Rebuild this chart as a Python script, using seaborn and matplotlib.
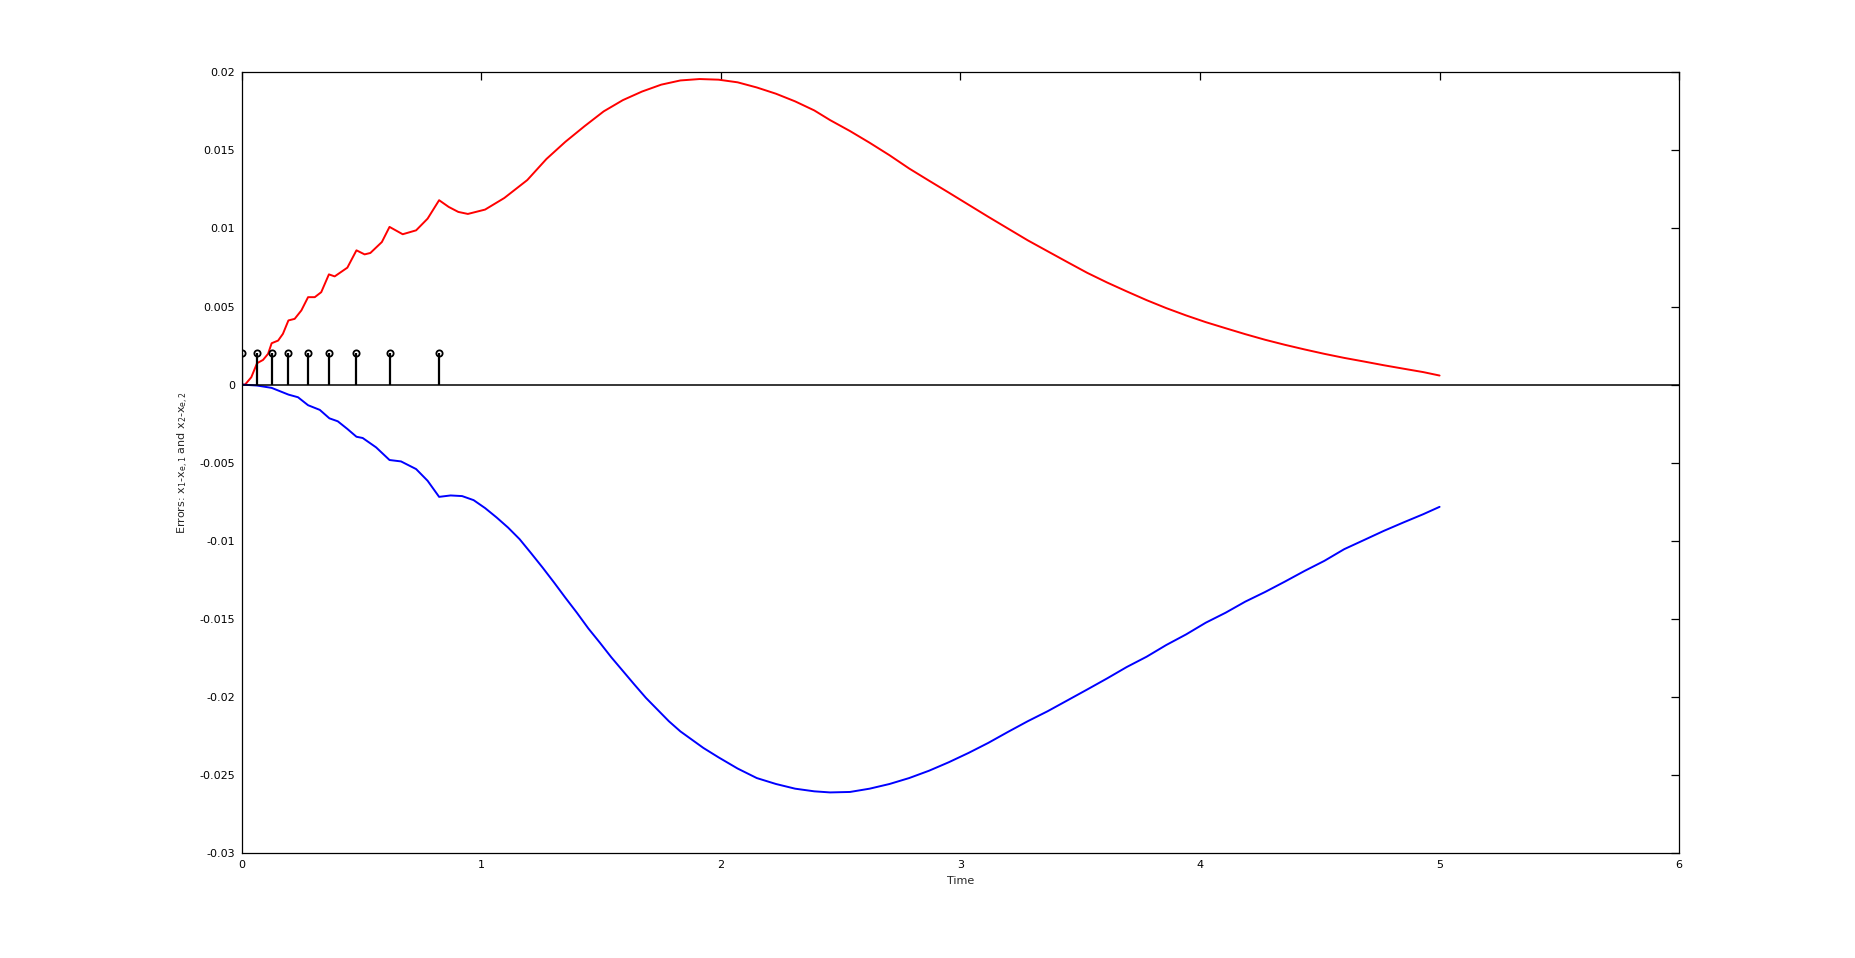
import matplotlib
matplotlib.use("Agg")
import matplotlib.pyplot as plt
import seaborn as sns
import pandas as pd

# impulse times (stem plot)
impulse_t = [0.0, 0.064, 0.126, 0.195, 0.277, 0.365, 0.478, 0.617, 0.824]
impulse_h = [0.002] * len(impulse_t)

# error x1 - xe1 (red)
red_t = [0.0, 0.014, 0.040, 0.064, 0.089, 0.110, 0.125, 0.152, 0.172, 0.195,
         0.221, 0.249, 0.277, 0.305, 0.332, 0.364, 0.388, 0.441, 0.479, 0.513,
         0.537, 0.585, 0.617, 0.672, 0.728, 0.776, 0.824, 0.864, 0.904, 0.944,
         1.016, 1.096, 1.192, 1.272, 1.351, 1.431, 1.511, 1.591, 1.671, 1.751,
         1.831, 1.911, 1.990, 2.070, 2.150, 2.230, 2.310, 2.390, 2.456, 2.539,
         2.621, 2.704, 2.786, 2.869, 2.951, 3.034, 3.116, 3.199, 3.281, 3.364,
         3.446, 3.529, 3.612, 3.694, 3.777, 3.859, 3.942, 4.024, 4.107, 4.189,
         4.272, 4.354, 4.437, 4.519, 4.602, 4.684, 4.767, 4.849, 4.932, 5.0]
red_e = [0.0, 0.0, 0.00047, 0.00137, 0.00158, 0.00197, 0.00265, 0.00282, 0.00325, 0.00411,
         0.00421, 0.00475, 0.00560, 0.00560, 0.00592, 0.00706, 0.00693, 0.00749, 0.00860, 0.00834,
         0.00843, 0.00913, 0.01010, 0.00963, 0.00988, 0.01063, 0.01181, 0.01138, 0.01106, 0.01093,
         0.01121, 0.01195, 0.01310, 0.01445, 0.01555, 0.01655, 0.01750, 0.01822, 0.01877, 0.01921,
         0.01948, 0.01957, 0.01953, 0.01936, 0.01903, 0.01863, 0.01814, 0.01756, 0.01694, 0.01624,
         0.01549, 0.01469, 0.01384, 0.01306, 0.01230, 0.01152, 0.01075, 0.00999, 0.00924, 0.00854,
         0.00785, 0.00716, 0.00654, 0.00597, 0.00541, 0.00490, 0.00443, 0.00400, 0.00361, 0.00323,
         0.00287, 0.00255, 0.00225, 0.00197, 0.00171, 0.00148, 0.00124, 0.00102, 0.00080, 0.00058]

# error x2 - xe2 (blue)
blue_t = [0.0, 0.064, 0.125, 0.195, 0.235, 0.277, 0.326, 0.366, 0.401, 0.441,
          0.479, 0.505, 0.561, 0.617, 0.665, 0.728, 0.776, 0.824, 0.872, 0.920,
          0.968, 1.016, 1.064, 1.112, 1.160, 1.208, 1.256, 1.304, 1.351, 1.399,
          1.447, 1.495, 1.543, 1.591, 1.639, 1.687, 1.735, 1.783, 1.831, 1.879,
          1.927, 1.990, 2.070, 2.150, 2.230, 2.310, 2.390, 2.456, 2.539, 2.621,
          2.704, 2.786, 2.869, 2.951, 3.034, 3.116, 3.199, 3.281, 3.364, 3.446,
          3.529, 3.612, 3.694, 3.777, 3.859, 3.942, 4.024, 4.107, 4.189, 4.272,
          4.354, 4.437, 4.519, 4.602, 4.684, 4.767, 4.849, 4.932, 5.0]
blue_e = [0.0, -0.00006, -0.00021, -0.00064, -0.00081, -0.00132, -0.00162, -0.00216, -0.00235, -0.00284,
          -0.00334, -0.00342, -0.00402, -0.00483, -0.00492, -0.00541, -0.00616, -0.00719, -0.00710, -0.00714,
          -0.00740, -0.00791, -0.00851, -0.00916, -0.00990, -0.01080, -0.01172, -0.01268, -0.01365, -0.01461,
          -0.01562, -0.01653, -0.01747, -0.01834, -0.01921, -0.02006, -0.02081, -0.02156, -0.02221, -0.02274,
          -0.02327, -0.02387, -0.02459, -0.02520, -0.02558, -0.02588, -0.02605, -0.02612, -0.02609, -0.02588,
          -0.02558, -0.02520, -0.02473, -0.02419, -0.02359, -0.02295, -0.02224, -0.02156, -0.02092, -0.02023,
          -0.01953, -0.01882, -0.01809, -0.01743, -0.01668, -0.01600, -0.01525, -0.01461, -0.01390, -0.01328,
          -0.01262, -0.01193, -0.01129, -0.01054, -0.00996, -0.00937, -0.00883, -0.00830, -0.00783]

x_ticks = [0, 1, 2, 3, 4, 5, 6]
y_ticks = [-0.03, -0.025, -0.02, -0.015, -0.01, -0.005, 0, 0.005, 0.01, 0.015, 0.02]
y_tick_labels = ["-0.03", "-0.025", "-0.02", "-0.015", "-0.01", "-0.005",
                 "0", "0.005", "0.01", "0.015", "0.02"]

sns.set_style("white")
plt.rcParams["font.family"] = ["DejaVu Sans"]
plt.rcParams["axes.unicode_minus"] = False

fig = plt.figure(figsize=(18.55, 9.58), dpi=100)
ax = fig.add_axes([0.1303, 0.1096, 0.7749, 0.8149])

red_df = pd.DataFrame({"t": red_t, "e": red_e})
blue_df = pd.DataFrame({"t": blue_t, "e": blue_e})

sns.lineplot(data=red_df, x="t", y="e", ax=ax, color="#ff0000", linewidth=1.4,
             sort=False, estimator=None)
sns.lineplot(data=blue_df, x="t", y="e", ax=ax, color="#0000ff", linewidth=1.4,
             sort=False, estimator=None)

# stems
ax.axhline(0, color="black", linewidth=1.1, zorder=3)
ax.vlines(impulse_t, 0, impulse_h, color="black", linewidth=1.6, zorder=4)
ax.plot(impulse_t, impulse_h, "o", color="black", markerfacecolor="none",
        markersize=4.5, markeredgewidth=1.3, zorder=5)

ax.set_xlim(0, 6)
ax.set_ylim(-0.03, 0.02)
ax.set_xticks(x_ticks)
ax.set_xticklabels([str(v) for v in x_ticks])
ax.set_yticks(y_ticks)
ax.set_yticklabels(y_tick_labels)
ax.tick_params(direction="in", length=6, width=0.9, top=True, right=True,
               labelsize=8, pad=5, colors="black")
for s in ax.spines.values():
    s.set_color("black")
    s.set_linewidth(0.9)

ax.set_xlabel("Time", fontsize=8, labelpad=4)
ax.set_ylabel(r"Errors: x$_\mathregular{1}$-x$_\mathregular{e,1}$ and x$_\mathregular{2}$-x$_\mathregular{e,2}$",
              fontsize=8, labelpad=6)

fig.savefig("out.png", dpi=100, facecolor="white")
